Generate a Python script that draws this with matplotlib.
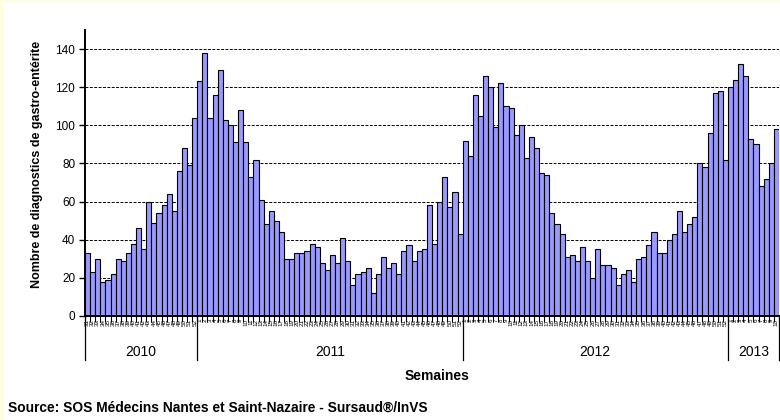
import matplotlib
matplotlib.use("Agg")
import matplotlib.pyplot as plt
from matplotlib.patches import Rectangle
import matplotlib.transforms as mtransforms

plt.rcParams['font.family'] = ['Liberation Sans', 'DejaVu Sans']

years = ["2010", "2011", "2012", "2013"]
weeks_2010 = list(range(31, 53))
weeks_2011 = list(range(1, 53))
weeks_2012 = list(range(1, 53))
weeks_2013 = list(range(1, 11))

values_2010 = [33, 23, 30, 18, 19, 22, 30, 29, 33, 38, 46, 35, 60, 49, 54, 58, 64, 55, 76, 88, 79, 104]
values_2011 = [123, 138, 104, 116, 129, 103, 100, 91, 108, 91, 73, 82, 61, 48, 55, 50, 44, 30, 30, 33,
               33, 34, 38, 36, 28, 24, 32, 28, 41, 29, 16, 22, 23, 25, 12, 22, 31, 25, 28, 22,
               34, 37, 29, 34, 35, 58, 38, 60, 73, 57, 65, 43]
values_2012 = [92, 84, 116, 105, 126, 120, 99, 122, 110, 109, 95, 100, 83, 94, 88, 75, 74, 54, 48, 43,
               31, 32, 29, 36, 29, 20, 35, 27, 27, 25, 16, 22, 24, 18, 30, 31, 37, 44, 33, 33,
               40, 43, 55, 44, 48, 52, 80, 78, 96, 117, 118, 82]
values_2013 = [120, 124, 132, 126, 93, 90, 68, 72, 80, 98]

week_groups = [weeks_2010, weeks_2011, weeks_2012, weeks_2013]
value_groups = [values_2010, values_2011, values_2012, values_2013]

weeks = [w for g in week_groups for w in g]
values = [v for g in value_groups for v in g]
n = len(values)
xs = list(range(n))

W, H = 780, 420
fig = plt.figure(figsize=(W / 100, H / 100), dpi=100)
fig.patch.set_facecolor("white")
# pale yellow frame strips (top and left)
fig.patches.append(Rectangle((0, 0), 4 / W, 1, transform=fig.transFigure,
                             facecolor="#FFFFE0", edgecolor="none", zorder=0))
fig.patches.append(Rectangle((0, 1 - 2 / H), 1, 2 / H, transform=fig.transFigure,
                             facecolor="#FFFFE0", edgecolor="none", zorder=0))

left, right, top, bottom = 85, 779, 30, 316
ax = fig.add_axes([left / W, 1 - bottom / H, (right - left) / W, (bottom - top) / H])
ax.set_facecolor("white")

ax.bar(xs, values, width=1.0, color="#9999FF", edgecolor="black", linewidth=0.8, zorder=3)

ax.set_xlim(-0.5, n - 0.5)
ax.set_ylim(0, 150)
ax.set_yticks(range(0, 141, 20))
for y in range(20, 141, 20):
    ax.axhline(y, color="black", linestyle=(0, (3, 1.5)), linewidth=0.7, zorder=1)

for s in ["top", "right"]:
    ax.spines[s].set_visible(False)
ax.spines["left"].set_linewidth(1.4)
ax.spines["bottom"].set_linewidth(1.4)
ax.spines["left"].set_zorder(4)
ax.spines["bottom"].set_zorder(4)

ax.tick_params(axis="y", direction="out", length=4, width=1, labelsize=8.5, pad=3)
ax.set_xticks(xs)
ax.set_xticklabels([str(w) for w in weeks], rotation=90, fontsize=4.5, va="top")
ax.tick_params(axis="x", which="major", length=0, pad=2)
ax.set_xticks([x - 0.5 for x in range(n + 1)], minor=True)
ax.tick_params(axis="x", which="minor", direction="out", length=4, width=0.8)

ax.set_ylabel("Nombre de diagnostics de gastro-entérite", fontsize=9, fontweight="bold")
ax.yaxis.set_label_coords(-0.061, 0.53)

trans = mtransforms.blended_transform_factory(ax.transData, ax.transAxes)
start = 0
bounds = [-0.5]
for yr, g in zip(years, week_groups):
    end = start + len(g)
    bounds.append(end - 0.5)
    ax.text((start + end - 1) / 2, -0.126, yr, transform=trans, ha="center", va="center", fontsize=10)
    start = end
for b in bounds:
    ax.plot([b, b], [0, -0.155], transform=trans, color="black", linewidth=0.9, clip_on=False)

fig.text(437 / W, 1 - 376 / H, "Semaines", ha="center", va="center", fontsize=10, fontweight="bold")
fig.text(8 / W, 1 - 408 / H, "Source: SOS Médecins Nantes et Saint-Nazaire - Sursaud®/InVS",
         ha="left", va="center", fontsize=9.9, fontweight="bold")

fig.savefig("out.png", dpi=100, facecolor=fig.get_facecolor())
